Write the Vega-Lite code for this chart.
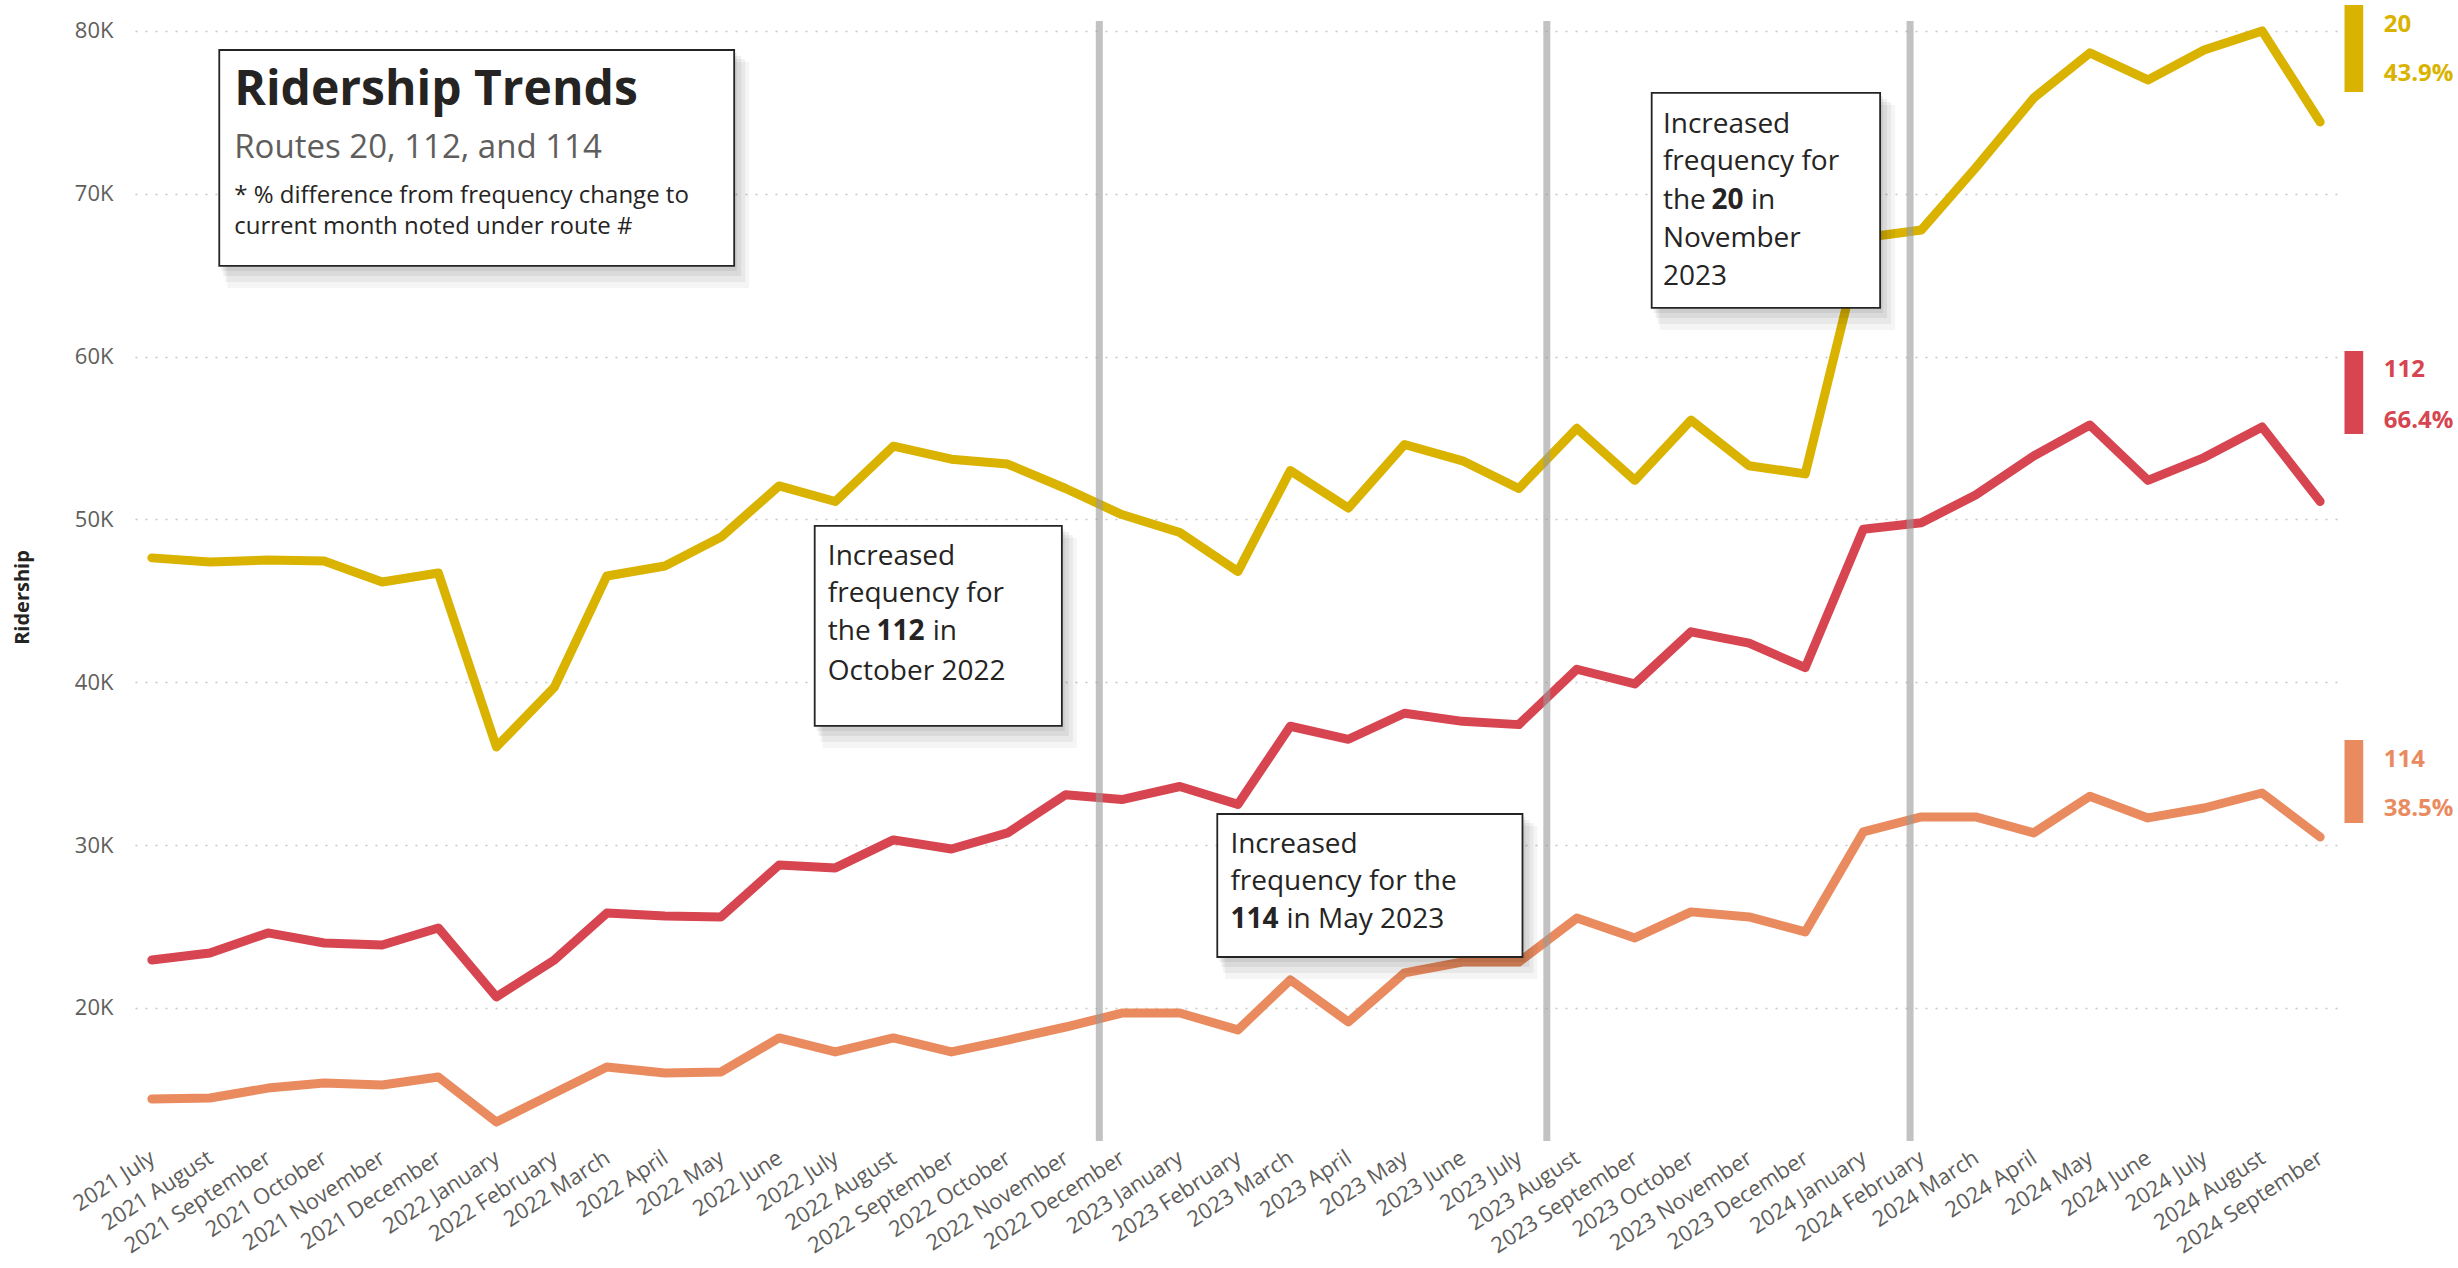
{
  "$schema": "https://vega.github.io/schema/vega-lite/v6.json",
  "width": 2202,
  "height": 1120,
  "autosize": {"type": "none"},
  "padding": {"left": 135, "top": 21, "right": 121, "bottom": 127},
  "background": "white",
  "config": {
    "view": {"stroke": null},
    "font": "Open Sans",
    "axisX": {
      "labelExpr": "utcFormat(datum.value, '%Y %B')",
      "labelAngle": -33, "labelFontSize": 22, "labelColor": "#605E5C", "labelFont": "Open Sans",
      "labelPadding": 6, "labelOffset": -5, "ticks": false, "domain": false, "grid": false,
      "labelOverlap": false, "labelBound": false, "labelFlush": false
    },
    "axisY": {
      "labelExpr": "datum.value / 1000 + 'K'",
      "labelFontSize": 22, "labelColor": "#605E5C", "labelFont": "Open Sans", "labelPadding": 22,
      "ticks": false, "domain": false,
      "grid": true, "gridDash": [2, 8], "gridColor": "#C8C6C4", "gridWidth": 1.5,
      "titleFontSize": 20, "titleFontWeight": "bold", "titleColor": "#252423", "titleFont": "Open Sans",
      "titlePadding": 42
    }
  },
  "datasets": {
    "ridership": [
      {"route": "20", "date": "2021-07-01", "value": 47640},
      {"route": "20", "date": "2021-08-01", "value": 47390},
      {"route": "20", "date": "2021-09-01", "value": 47510},
      {"route": "20", "date": "2021-10-01", "value": 47450},
      {"route": "20", "date": "2021-11-01", "value": 46160},
      {"route": "20", "date": "2021-12-01", "value": 46710},
      {"route": "20", "date": "2022-01-01", "value": 36030},
      {"route": "20", "date": "2022-02-01", "value": 39710},
      {"route": "20", "date": "2022-03-01", "value": 46530},
      {"route": "20", "date": "2022-04-01", "value": 47140},
      {"route": "20", "date": "2022-05-01", "value": 48920},
      {"route": "20", "date": "2022-06-01", "value": 52060},
      {"route": "20", "date": "2022-07-01", "value": 51100},
      {"route": "20", "date": "2022-08-01", "value": 54500},
      {"route": "20", "date": "2022-09-01", "value": 53700},
      {"route": "20", "date": "2022-10-01", "value": 53400},
      {"route": "20", "date": "2022-11-01", "value": 51900},
      {"route": "20", "date": "2022-12-01", "value": 50300},
      {"route": "20", "date": "2023-01-01", "value": 49200},
      {"route": "20", "date": "2023-02-01", "value": 46800},
      {"route": "20", "date": "2023-03-01", "value": 53000},
      {"route": "20", "date": "2023-04-01", "value": 50700},
      {"route": "20", "date": "2023-05-01", "value": 54600},
      {"route": "20", "date": "2023-06-01", "value": 53600},
      {"route": "20", "date": "2023-07-01", "value": 51900},
      {"route": "20", "date": "2023-08-01", "value": 55600},
      {"route": "20", "date": "2023-09-01", "value": 52400},
      {"route": "20", "date": "2023-10-01", "value": 56100},
      {"route": "20", "date": "2023-11-01", "value": 53300},
      {"route": "20", "date": "2023-12-01", "value": 52800},
      {"route": "20", "date": "2024-01-01", "value": 67300},
      {"route": "20", "date": "2024-02-01", "value": 67780},
      {"route": "20", "date": "2024-03-01", "value": 71590},
      {"route": "20", "date": "2024-04-01", "value": 75880},
      {"route": "20", "date": "2024-05-01", "value": 78650},
      {"route": "20", "date": "2024-06-01", "value": 76990},
      {"route": "20", "date": "2024-07-01", "value": 78830},
      {"route": "20", "date": "2024-08-01", "value": 80000},
      {"route": "20", "date": "2024-09-01", "value": 74410},
      {"route": "112", "date": "2021-07-01", "value": 22950},
      {"route": "112", "date": "2021-08-01", "value": 23380},
      {"route": "112", "date": "2021-09-01", "value": 24610},
      {"route": "112", "date": "2021-10-01", "value": 23990},
      {"route": "112", "date": "2021-11-01", "value": 23870},
      {"route": "112", "date": "2021-12-01", "value": 24910},
      {"route": "112", "date": "2022-01-01", "value": 20680},
      {"route": "112", "date": "2022-02-01", "value": 22950},
      {"route": "112", "date": "2022-03-01", "value": 25830},
      {"route": "112", "date": "2022-04-01", "value": 25650},
      {"route": "112", "date": "2022-05-01", "value": 25590},
      {"route": "112", "date": "2022-06-01", "value": 28780},
      {"route": "112", "date": "2022-07-01", "value": 28600},
      {"route": "112", "date": "2022-08-01", "value": 30320},
      {"route": "112", "date": "2022-09-01", "value": 29760},
      {"route": "112", "date": "2022-10-01", "value": 30750},
      {"route": "112", "date": "2022-11-01", "value": 33100},
      {"route": "112", "date": "2022-12-01", "value": 32800},
      {"route": "112", "date": "2023-01-01", "value": 33600},
      {"route": "112", "date": "2023-02-01", "value": 32500},
      {"route": "112", "date": "2023-03-01", "value": 37300},
      {"route": "112", "date": "2023-04-01", "value": 36500},
      {"route": "112", "date": "2023-05-01", "value": 38100},
      {"route": "112", "date": "2023-06-01", "value": 37600},
      {"route": "112", "date": "2023-07-01", "value": 37400},
      {"route": "112", "date": "2023-08-01", "value": 40800},
      {"route": "112", "date": "2023-09-01", "value": 39900},
      {"route": "112", "date": "2023-10-01", "value": 43100},
      {"route": "112", "date": "2023-11-01", "value": 42400},
      {"route": "112", "date": "2023-12-01", "value": 40900},
      {"route": "112", "date": "2024-01-01", "value": 49400},
      {"route": "112", "date": "2024-02-01", "value": 49800},
      {"route": "112", "date": "2024-03-01", "value": 51500},
      {"route": "112", "date": "2024-04-01", "value": 53900},
      {"route": "112", "date": "2024-05-01", "value": 55800},
      {"route": "112", "date": "2024-06-01", "value": 52400},
      {"route": "112", "date": "2024-07-01", "value": 53800},
      {"route": "112", "date": "2024-08-01", "value": 55680},
      {"route": "112", "date": "2024-09-01", "value": 51100},
      {"route": "114", "date": "2021-07-01", "value": 14410},
      {"route": "114", "date": "2021-08-01", "value": 14470},
      {"route": "114", "date": "2021-09-01", "value": 15080},
      {"route": "114", "date": "2021-10-01", "value": 15390},
      {"route": "114", "date": "2021-11-01", "value": 15270},
      {"route": "114", "date": "2021-12-01", "value": 15760},
      {"route": "114", "date": "2022-01-01", "value": 13000},
      {"route": "114", "date": "2022-02-01", "value": 14780},
      {"route": "114", "date": "2022-03-01", "value": 16380},
      {"route": "114", "date": "2022-04-01", "value": 16000},
      {"route": "114", "date": "2022-05-01", "value": 16070},
      {"route": "114", "date": "2022-06-01", "value": 18160},
      {"route": "114", "date": "2022-07-01", "value": 17300},
      {"route": "114", "date": "2022-08-01", "value": 18160},
      {"route": "114", "date": "2022-09-01", "value": 17300},
      {"route": "114", "date": "2022-10-01", "value": 18030},
      {"route": "114", "date": "2022-11-01", "value": 18830},
      {"route": "114", "date": "2022-12-01", "value": 19690},
      {"route": "114", "date": "2023-01-01", "value": 19690},
      {"route": "114", "date": "2023-02-01", "value": 18650},
      {"route": "114", "date": "2023-03-01", "value": 21720},
      {"route": "114", "date": "2023-04-01", "value": 19140},
      {"route": "114", "date": "2023-05-01", "value": 22150},
      {"route": "114", "date": "2023-06-01", "value": 22820},
      {"route": "114", "date": "2023-07-01", "value": 22820},
      {"route": "114", "date": "2023-08-01", "value": 25520},
      {"route": "114", "date": "2023-09-01", "value": 24300},
      {"route": "114", "date": "2023-10-01", "value": 25900},
      {"route": "114", "date": "2023-11-01", "value": 25590},
      {"route": "114", "date": "2023-12-01", "value": 24670},
      {"route": "114", "date": "2024-01-01", "value": 30810},
      {"route": "114", "date": "2024-02-01", "value": 31730},
      {"route": "114", "date": "2024-03-01", "value": 31730},
      {"route": "114", "date": "2024-04-01", "value": 30750},
      {"route": "114", "date": "2024-05-01", "value": 33000},
      {"route": "114", "date": "2024-06-01", "value": 31670},
      {"route": "114", "date": "2024-07-01", "value": 32280},
      {"route": "114", "date": "2024-08-01", "value": 33200},
      {"route": "114", "date": "2024-09-01", "value": 30500}
    ],
    "changes": [
      {"route": "112", "date": "2022-11-19"},
      {"route": "114", "date": "2023-07-16"},
      {"route": "20", "date": "2024-01-26"}
    ],
    "boxes": [
      {"box": "title", "date": "2021-08-06", "date2": "2022-05-08", "value": 78830, "value2": 65570},
      {"box": "112", "date": "2022-06-20", "date2": "2022-10-30", "value": 49600, "value2": 37320},
      {"box": "114", "date": "2023-01-21", "date2": "2023-07-03", "value": 31910, "value2": 23130},
      {"box": "20", "date": "2023-09-10", "date2": "2024-01-10", "value": 76190, "value2": 62990}
    ],
    "heading": [
      {"text": "Ridership Trends", "date": "2021-08-14", "value": 75450}
    ],
    "subheading": [
      {"text": "Routes 20, 112, and 114", "date": "2021-08-14", "value": 72200}
    ],
    "footnote": [
      {"text": "* % difference from frequency change to", "date": "2021-08-14", "value": 69430},
      {"text": "current month noted under route #", "date": "2021-08-14", "value": 67530}
    ],
    "noteText": [
      {"text": "Increased", "date": "2022-06-27", "value": 47200},
      {"text": "frequency for", "date": "2022-06-27", "value": 44930},
      {"text": "the", "date": "2022-06-27", "value": 42600},
      {"text": "in", "date": "2022-08-22", "value": 42600},
      {"text": "October 2022", "date": "2022-06-27", "value": 40140},
      {"text": "Increased", "date": "2023-01-28", "value": 29520},
      {"text": "frequency for the", "date": "2023-01-28", "value": 27240},
      {"text": "in May 2023", "date": "2023-02-27", "value": 24910},
      {"text": "Increased", "date": "2023-09-16", "value": 73730},
      {"text": "frequency for", "date": "2023-09-16", "value": 71460},
      {"text": "the", "date": "2023-09-16", "value": 69060},
      {"text": "in", "date": "2023-11-02", "value": 69060},
      {"text": "November", "date": "2023-09-16", "value": 66730},
      {"text": "2023", "date": "2023-09-16", "value": 64400}
    ],
    "noteBold": [
      {"text": "112", "date": "2022-07-23", "value": 42600},
      {"text": "114", "date": "2023-01-28", "value": 24910},
      {"text": "20", "date": "2023-10-12", "value": 69060}
    ],
    "endBars": [
      {"route": "20", "date": "2024-09-14", "date2": "2024-09-24", "value": 81590, "value2": 76250},
      {"route": "112", "date": "2024-09-14", "date2": "2024-09-24", "value": 60340, "value2": 55250},
      {"route": "114", "date": "2024-09-14", "date2": "2024-09-24", "value": 36460, "value2": 31360}
    ],
    "endText": [
      {"route": "20", "text": "20", "date": "2024-10-05", "value": 79930},
      {"route": "20", "text": "43.9%", "date": "2024-10-05", "value": 76920},
      {"route": "112", "text": "112", "date": "2024-10-05", "value": 58750},
      {"route": "112", "text": "66.4%", "date": "2024-10-05", "value": 55620},
      {"route": "114", "text": "114", "date": "2024-10-05", "value": 34800},
      {"route": "114", "text": "38.5%", "date": "2024-10-05", "value": 31790}
    ]
  },
  "layer": [
    {
      "data": {"name": "ridership"},
      "mark": {"type": "line", "strokeWidth": 9, "strokeCap": "round", "strokeJoin": "round"},
      "encoding": {
        "x": {
          "field": "date", "type": "temporal", "title": null,
          "scale": {"type": "utc", "nice": false, "domain": [{"year": 2021, "month": 6, "date": 22, "utc": true}, {"year": 2024, "month": 9, "date": 10, "utc": true}]},
          "axis": {"tickCount": {"interval": "month", "step": 1}}
        },
        "y": {
          "field": "value", "type": "quantitative", "title": "Ridership",
          "scale": {"domain": [11830, 80610], "nice": false, "zero": false},
          "axis": {"values": [20000, 30000, 40000, 50000, 60000, 70000, 80000], "titleFontSize": 20, "titleFontWeight": "bold", "titleY": 576}
        },
        "color": {
          "field": "route", "type": "nominal",
          "scale": {"domain": ["20", "112", "114"], "range": ["#D9B300", "#D64550", "#E98B5F"]},
          "legend": null
        }
      }
    },
    {
      "data": {"name": "changes"},
      "mark": {"type": "rule", "color": "#999999", "opacity": 0.6, "strokeWidth": 7},
      "encoding": {
        "x": {"field": "date", "type": "temporal", "title": null}
      }
    },
    {
      "data": {"name": "boxes"},
      "mark": {"type": "rect", "fill": "#000000", "opacity": 0.06, "xOffset": 2, "x2Offset": 3, "yOffset": 3, "y2Offset": 5},
      "encoding": {
        "x": {"field": "date", "type": "temporal", "title": null},
        "x2": {"field": "date2"},
        "y": {"field": "value", "type": "quantitative", "title": "Ridership"},
        "y2": {"field": "value2"}
      }
    },
    {
      "data": {"name": "boxes"},
      "mark": {"type": "rect", "fill": "#000000", "opacity": 0.06, "xOffset": 4, "x2Offset": 7, "yOffset": 6, "y2Offset": 10},
      "encoding": {
        "x": {"field": "date", "type": "temporal", "title": null},
        "x2": {"field": "date2"},
        "y": {"field": "value", "type": "quantitative", "title": "Ridership"},
        "y2": {"field": "value2"}
      }
    },
    {
      "data": {"name": "boxes"},
      "mark": {"type": "rect", "fill": "#000000", "opacity": 0.05, "xOffset": 6, "x2Offset": 11, "yOffset": 9, "y2Offset": 16},
      "encoding": {
        "x": {"field": "date", "type": "temporal", "title": null},
        "x2": {"field": "date2"},
        "y": {"field": "value", "type": "quantitative", "title": "Ridership"},
        "y2": {"field": "value2"}
      }
    },
    {
      "data": {"name": "boxes"},
      "mark": {"type": "rect", "fill": "#000000", "opacity": 0.04, "xOffset": 8, "x2Offset": 15, "yOffset": 12, "y2Offset": 22},
      "encoding": {
        "x": {"field": "date", "type": "temporal", "title": null},
        "x2": {"field": "date2"},
        "y": {"field": "value", "type": "quantitative", "title": "Ridership"},
        "y2": {"field": "value2"}
      }
    },
    {
      "data": {"name": "boxes"},
      "mark": {"type": "rect", "fill": "#FFFFFF", "stroke": "#252423", "strokeWidth": 1.8},
      "encoding": {
        "x": {"field": "date", "type": "temporal", "title": null},
        "x2": {"field": "date2"},
        "y": {"field": "value", "type": "quantitative", "title": "Ridership"},
        "y2": {"field": "value2"}
      }
    },
    {
      "data": {"name": "heading"},
      "mark": {"type": "text", "align": "left", "baseline": "alphabetic", "font": "Open Sans", "fontSize": 48, "fontWeight": "bold", "color": "#252423"},
      "encoding": {
        "x": {"field": "date", "type": "temporal", "title": null},
        "y": {"field": "value", "type": "quantitative", "title": "Ridership"},
        "text": {"field": "text"}
      }
    },
    {
      "data": {"name": "subheading"},
      "mark": {"type": "text", "align": "left", "baseline": "alphabetic", "font": "Open Sans", "fontSize": 33, "color": "#605E5C"},
      "encoding": {
        "x": {"field": "date", "type": "temporal", "title": null},
        "y": {"field": "value", "type": "quantitative", "title": "Ridership"},
        "text": {"field": "text"}
      }
    },
    {
      "data": {"name": "footnote"},
      "mark": {"type": "text", "align": "left", "baseline": "alphabetic", "font": "Open Sans", "fontSize": 24, "color": "#252423"},
      "encoding": {
        "x": {"field": "date", "type": "temporal", "title": null},
        "y": {"field": "value", "type": "quantitative", "title": "Ridership"},
        "text": {"field": "text"}
      }
    },
    {
      "data": {"name": "noteText"},
      "mark": {"type": "text", "align": "left", "baseline": "alphabetic", "font": "Open Sans", "fontSize": 28, "color": "#252423"},
      "encoding": {
        "x": {"field": "date", "type": "temporal", "title": null},
        "y": {"field": "value", "type": "quantitative", "title": "Ridership"},
        "text": {"field": "text"}
      }
    },
    {
      "data": {"name": "noteBold"},
      "mark": {"type": "text", "align": "left", "baseline": "alphabetic", "font": "Open Sans", "fontSize": 28, "fontWeight": "bold", "color": "#252423"},
      "encoding": {
        "x": {"field": "date", "type": "temporal", "title": null},
        "y": {"field": "value", "type": "quantitative", "title": "Ridership"},
        "text": {"field": "text"}
      }
    },
    {
      "data": {"name": "endBars"},
      "mark": {"type": "rect"},
      "encoding": {
        "x": {"field": "date", "type": "temporal", "title": null},
        "x2": {"field": "date2"},
        "y": {"field": "value", "type": "quantitative", "title": "Ridership"},
        "y2": {"field": "value2"},
        "color": {"field": "route", "type": "nominal", "legend": null}
      }
    },
    {
      "data": {"name": "endText"},
      "mark": {"type": "text", "align": "left", "baseline": "alphabetic", "font": "Open Sans", "fontSize": 24, "fontWeight": "bold"},
      "encoding": {
        "x": {"field": "date", "type": "temporal", "title": null},
        "y": {"field": "value", "type": "quantitative", "title": "Ridership"},
        "text": {"field": "text"},
        "color": {"field": "route", "type": "nominal", "legend": null}
      }
    }
  ]
}
